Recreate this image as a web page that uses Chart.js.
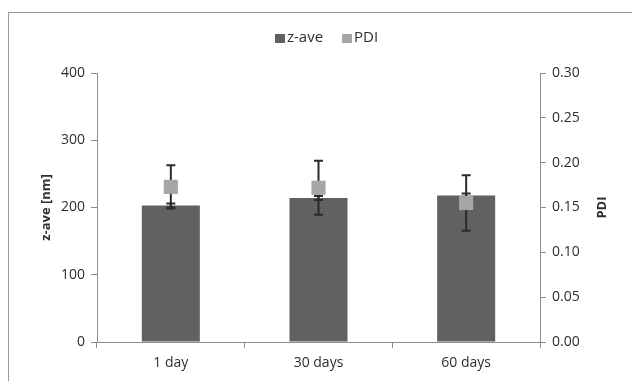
<!DOCTYPE html>
<html>
<head>
<meta charset="utf-8">
<script src="https://cdn.jsdelivr.net/npm/chart.js@4/dist/chart.umd.min.js"></script>
<style>
  html, body { margin: 0; padding: 0; background: #fff; }
  #wrap { width: 632px; height: 381px; position: relative; }
</style>
</head>
<body>
<div id="wrap"><canvas id="chart" width="632" height="381"></canvas></div>
<script>
// data
const categories = ['1 day', '30 days', '60 days'];
const zAve = [203, 214, 218];
const zAveErr = [3, 3, 3];
const pdi = [0.173, 0.172, 0.155];
const pdiErr = [0.024, 0.030, 0.031];
const leftTicks = [0, 100, 200, 300, 400];
const rightTicks = [0, 0.05, 0.10, 0.15, 0.20, 0.25, 0.30];

const FONT = 'Open Sans';
const barColor = '#616161';
const pdiColor = '#a6a6a6';
const axisColor = '#8c8c8c';
const textColor = '#2e2e2e';

// frame, legend and axis titles
const decor = {
    id: 'decor',
    beforeDraw(chart) {
        const c = chart.ctx;
        c.save();
        c.fillStyle = '#fff';
        c.fillRect(0, 0, chart.width, chart.height);
        c.strokeStyle = '#9a9a9a';
        c.lineWidth = 1;
        c.strokeRect(8.5, 12.5, 700, 500);
        c.restore();
    },
    afterDraw(chart) {
        const c = chart.ctx;
        const area = chart.chartArea;
        c.save();
        // legend
        c.font = '15px "' + FONT + '"';
        c.textBaseline = 'middle';
        c.fillStyle = barColor;
        c.fillRect(275, 34, 10, 9);
        c.fillStyle = textColor;
        c.fillText('z-ave', 287, 38);
        c.fillStyle = pdiColor;
        c.fillRect(342, 34, 10, 9);
        c.fillStyle = textColor;
        c.fillText('PDI', 354, 38);
        // axis titles, both read bottom to top
        c.font = 'bold 13px "' + FONT + '"';
        c.textAlign = 'center';
        const midY = (area.top + area.bottom) / 2;
        c.translate(46, midY);
        c.rotate(-Math.PI / 2);
        c.fillText('z-ave [nm]', 0, 0);
        c.rotate(Math.PI / 2);
        c.translate(-46, -midY);
        c.translate(602, midY);
        c.rotate(-Math.PI / 2);
        c.fillText('PDI', 0, 0);
        c.restore();
    }
};

// error bars, drawn over the bars and under the PDI markers
function drawErr(c, x, yTop, yBot) {
    const cap = 4.5;
    c.beginPath();
    c.moveTo(x, yTop); c.lineTo(x, yBot);
    c.moveTo(x - cap, yTop); c.lineTo(x + cap, yTop);
    c.moveTo(x - cap, yBot); c.lineTo(x + cap, yBot);
    c.stroke();
}
const errorBars = {
    id: 'errorBars',
    afterDatasetDraw(chart, args) {
        if (args.index !== 0) return;
        const c = chart.ctx;
        const y = chart.scales.y, y1 = chart.scales.y1, x = chart.scales.x;
        c.save();
        c.strokeStyle = '#2b2b2b';
        c.lineWidth = 2;
        categories.forEach((cat, i) => {
            const px = x.getPixelForValue(i);
            drawErr(c, px, y.getPixelForValue(zAve[i] + zAveErr[i]), y.getPixelForValue(zAve[i] - zAveErr[i]));
            drawErr(c, px, y1.getPixelForValue(pdi[i] + pdiErr[i]), y1.getPixelForValue(pdi[i] - pdiErr[i]));
        });
        c.restore();
    }
};

new Chart(document.getElementById('chart'), {
    type: 'bar',
    data: {
        labels: categories,
        datasets: [
            {
                label: 'z-ave',
                data: zAve,
                yAxisID: 'y',
                backgroundColor: barColor,
                barPercentage: 0.393,
                categoryPercentage: 1,
                order: 2
            },
            {
                type: 'line',
                label: 'PDI',
                data: pdi,
                yAxisID: 'y1',
                showLine: false,
                pointStyle: 'rect',
                pointRadius: 10,
                pointBackgroundColor: pdiColor,
                pointBorderColor: pdiColor,
                pointBorderWidth: 0,
                order: 1
            }
        ]
    },
    options: {
        responsive: false,
        animation: false,
        layout: { padding: { top: 73, left: 0, right: 0, bottom: 0 } },
        plugins: { legend: { display: false }, tooltip: { enabled: false } },
        scales: {
            x: {
                offset: true,
                grid: { offset: true, drawOnChartArea: false, color: axisColor, tickLength: 6 },
                border: { color: axisColor },
                ticks: { color: textColor, font: { family: FONT, size: 14 }, padding: 7 },
                afterFit(s) { s.height = 39; }
            },
            y: {
                position: 'left',
                min: 0, max: 400,
                afterBuildTicks(s) { s.ticks = leftTicks.map(v => ({ value: v })); },
                grid: { drawOnChartArea: false, color: axisColor, tickLength: 6 },
                border: { color: axisColor },
                ticks: { color: textColor, font: { family: FONT, size: 14 }, padding: 6 },
                afterFit(s) { s.width = 97; }
            },
            y1: {
                position: 'right',
                min: 0, max: 0.30,
                afterBuildTicks(s) { s.ticks = rightTicks.map(v => ({ value: v })); },
                grid: { drawOnChartArea: false, color: axisColor, tickLength: 6 },
                border: { color: axisColor },
                ticks: {
                    color: textColor, font: { family: FONT, size: 14 }, padding: 6,
                    callback: v => v.toFixed(2)
                },
                afterFit(s) { s.width = 92; }
            }
        }
    },
    plugins: [decor, errorBars]
});
</script>
</body>
</html>
